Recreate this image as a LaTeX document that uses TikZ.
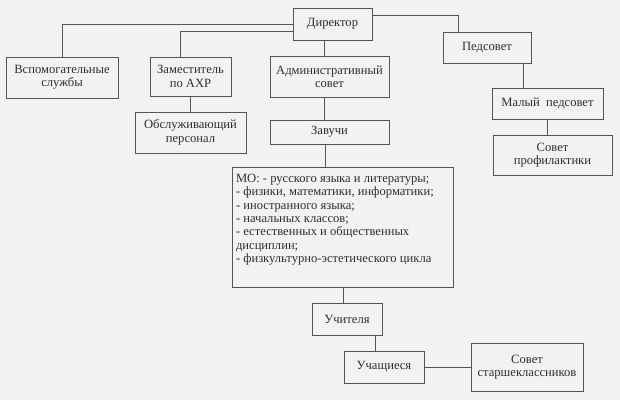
\documentclass[tikz,border=0pt]{standalone}
\usepackage{fontspec}
\setmainfont{Liberation Serif}
\usetikzlibrary{calc}
\definecolor{bg}{HTML}{F2F2F2}
\definecolor{ln}{HTML}{555555}
\definecolor{tx}{HTML}{2E2E2E}
\begin{document}
\begin{tikzpicture}[x=1pt,y=-1pt,
  box/.style={draw=ln, line width=0.9pt, text=tx, align=center, inner sep=0pt,
    font=\fontsize{12.6}{13.4}\selectfont},
  conn/.style={draw=ln, line width=0.9pt}]
\fill[bg] (0,0) rectangle (620,400);
\useasboundingbox (0,0) rectangle (620,400);

\node[box, minimum width=79pt, minimum height=32pt] (dir) at (332.5,24) {Директор};
\node[box, minimum width=112pt, minimum height=41pt] (vsp) at (62,77.5) {Вспомогательные\\службы};
\node[box, minimum width=81pt, minimum height=39pt] (zam) at (190.5,76.5) {Заместитель\\по АХР};
\node[box, minimum width=111pt, minimum height=41pt] (obs) at (190.5,132.5) {Обслуживающий\\персонал};
\node[box, minimum width=119pt, minimum height=41pt] (adm) at (329.5,76.5) {Административный\\совет};
\node[box, minimum width=119pt, minimum height=24pt] (zav) at (329.5,132) {Завучи};
\node[box, inner sep=4pt, align=left] (mo) at (342.5,227) {\begin{minipage}[c][112pt][t]{213pt}\raggedright\vspace*{3pt}%
МО: - русского языка и литературы;\\
- физики, математики, информатики;\\
- иностранного языка;\\
- начальных классов;\\
- естественных и общественных\\
дисциплин;\\
- физкультурно-эстетического цикла\end{minipage}};
\node[box, minimum width=88pt, minimum height=31pt] (ped) at (487,47.5) {Педсовет};
\node[box, minimum width=111pt, minimum height=31pt] (mal) at (547.5,103.5) {Малый~ педсовет};
\node[box, minimum width=119pt, minimum height=40pt] (prof) at (552.5,155) {Совет\\профилактики};
\node[box, minimum width=70pt, minimum height=32pt] (uch) at (347,319) {Учителя};
\node[box, minimum width=80pt, minimum height=32pt] (uchs) at (384,367) {Учащиеся};
\node[box, minimum width=112pt, minimum height=48pt] (sst) at (527,367) {Совет\\старшеклассников};

\draw[conn] ($(dir.north west)+(0,17)$) -| (vsp.north);
\draw[conn] ($(dir.north west)+(0,24)$) -| ($(zam.north west)+(31,0)$);
\draw[conn] ($(dir.south west)+(32,0)$) -- ($(adm.north west)+(55,0)$);
\draw[conn] ($(dir.north east)+(0,8)$) -| ($(ped.north west)+(16,0)$);
\draw[conn] ($(ped.south west)+(81,0)$) -- ($(mal.north west)+(32,0)$);
\draw[conn] ($(mal.south west)+(56,0)$) -- ($(prof.north west)+(55,0)$);
\draw[conn] (zam.south) -- (obs.north);
\draw[conn] ($(adm.south west)+(55,0)$) -- ($(zav.north west)+(55,0)$);
\draw[conn] ($(zav.south west)+(56,0)$) -- ($(mo.north west)+(94,0)$);
\draw[conn] ($(mo.south west)+(112,0)$) -- ($(uch.north west)+(32,0)$);
\draw[conn] ($(uch.south west)+(64,0)$) -- ($(uchs.north west)+(32,0)$);
\draw[conn] (uchs.east) -- (sst.west);
\end{tikzpicture}
\end{document}
